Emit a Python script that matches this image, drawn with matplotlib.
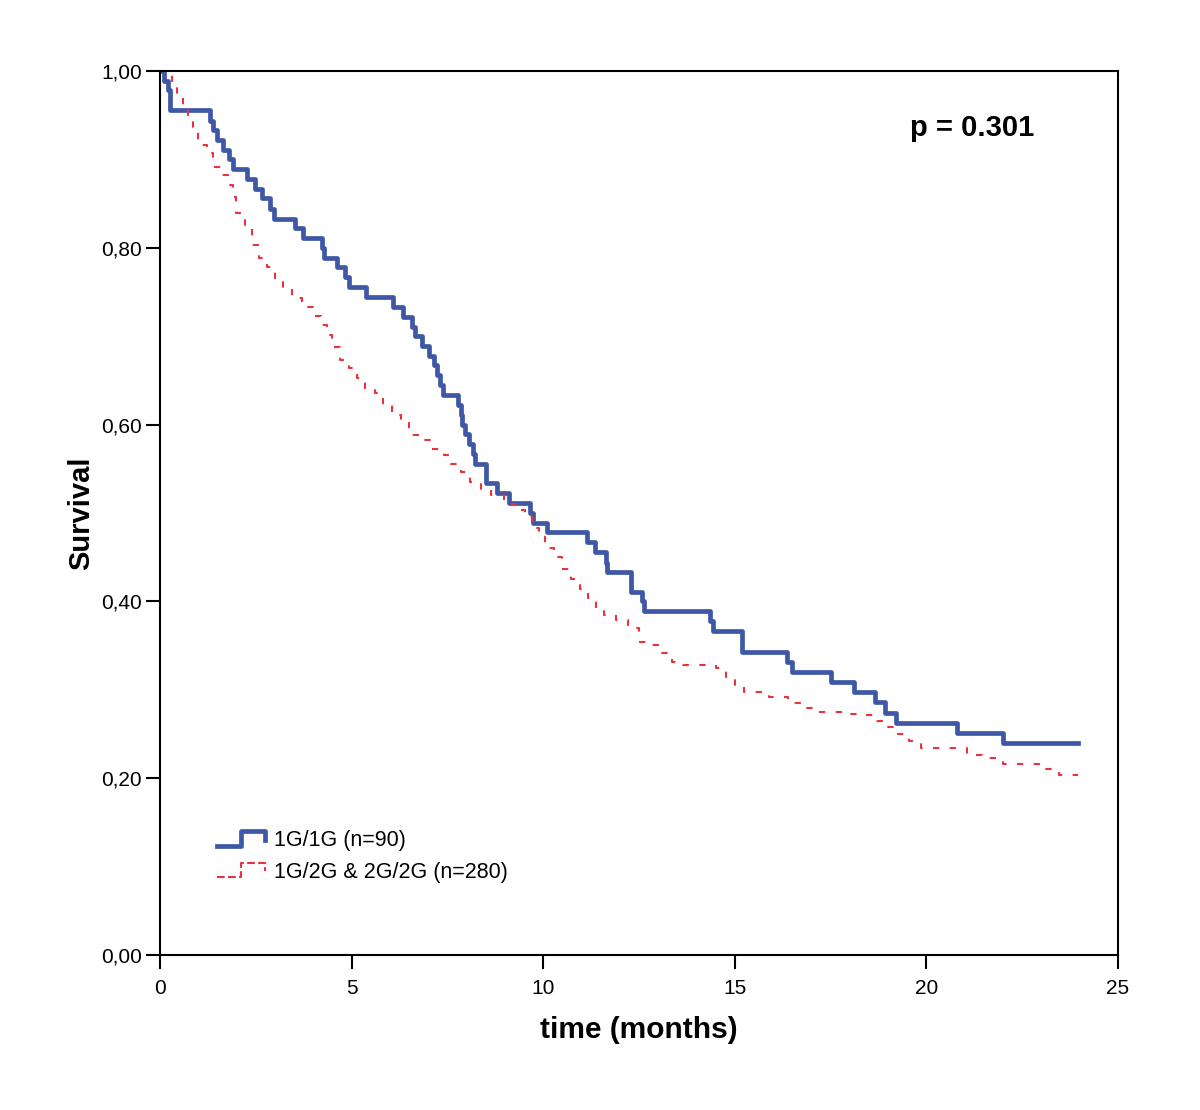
import numpy as np
import matplotlib
matplotlib.use("Agg")
import matplotlib.pyplot as plt
from matplotlib.legend_handler import HandlerBase
from matplotlib.lines import Line2D

plt.rcParams['font.family'] = ['Liberation Sans', 'DejaVu Sans']

# Kaplan-Meier curves (time in months, survival)
t_1g = [0, 0.1, 0.2, 0.27, 1.30, 1.38, 1.5, 1.65, 1.8, 1.9, 2.27, 2.48, 2.66, 2.87, 2.97,
        3.52, 3.73, 4.23, 4.28, 4.62, 4.83, 4.93, 5.38, 6.08, 6.34, 6.58, 6.65, 6.84, 7.02,
        7.15, 7.23, 7.31, 7.39, 7.78, 7.85, 7.88, 7.96, 8.06, 8.17, 8.22, 8.5, 8.8, 9.1,
        9.65, 9.73, 10.1, 11.14, 11.35, 11.63, 11.66, 12.3, 12.58, 12.63, 14.35, 14.43,
        15.2, 16.36, 16.49, 17.5, 18.1, 18.66, 18.92, 19.2, 20.8, 22.0, 23.96]
s_1g = [1.0, 0.989, 0.978, 0.956, 0.944, 0.933, 0.922, 0.911, 0.900, 0.889, 0.878, 0.867,
        0.856, 0.844, 0.833, 0.822, 0.811, 0.800, 0.789, 0.778, 0.767, 0.756, 0.744, 0.733,
        0.722, 0.711, 0.700, 0.689, 0.678, 0.667, 0.656, 0.645, 0.633, 0.622, 0.611, 0.600,
        0.589, 0.578, 0.567, 0.556, 0.534, 0.523, 0.511, 0.500, 0.489, 0.478, 0.467, 0.456,
        0.444, 0.433, 0.411, 0.400, 0.389, 0.378, 0.366, 0.343, 0.331, 0.320, 0.309, 0.298,
        0.286, 0.274, 0.263, 0.251, 0.240, 0.240]

t_2g = [0, 0.31, 0.44, 0.6, 0.73, 0.86, 0.99, 1.23, 1.38, 1.62, 1.83, 1.9, 1.98, 2.22, 2.4,
        2.58, 2.8, 3.0, 3.2, 3.45, 3.7, 4.0, 4.2, 4.36, 4.5, 4.7, 4.94, 5.15, 5.35, 5.6,
        5.82, 6.05, 6.3, 6.5, 6.8, 7.05, 7.4, 7.6, 7.86, 8.08, 8.38, 8.65, 8.98, 9.3, 9.52,
        9.7, 9.9, 10.05, 10.28, 10.5, 10.72, 10.95, 11.16, 11.38, 11.58, 11.9, 12.2, 12.5,
        12.85, 13.08, 13.37, 13.65, 14.5, 14.78, 15.0, 15.25, 15.9, 16.4, 16.75, 17.1, 17.9,
        18.4, 18.7, 19.0, 19.27, 19.55, 19.85, 21.05, 21.45, 22.0, 23.05, 23.45, 23.96]
s_2g = [1.0, 0.986, 0.973, 0.960, 0.945, 0.931, 0.916, 0.907, 0.891, 0.882, 0.871, 0.857,
        0.839, 0.826, 0.803, 0.788, 0.778, 0.766, 0.755, 0.743, 0.733, 0.723, 0.713, 0.701,
        0.688, 0.673, 0.664, 0.653, 0.639, 0.636, 0.622, 0.611, 0.602, 0.588, 0.583, 0.572,
        0.566, 0.556, 0.546, 0.535, 0.527, 0.520, 0.510, 0.503, 0.495, 0.483, 0.473, 0.460,
        0.450, 0.437, 0.425, 0.414, 0.404, 0.393, 0.385, 0.379, 0.370, 0.354, 0.351, 0.342,
        0.331, 0.328, 0.325, 0.314, 0.306, 0.298, 0.292, 0.285, 0.279, 0.275, 0.273, 0.271,
        0.265, 0.258, 0.250, 0.242, 0.234, 0.226, 0.223, 0.216, 0.211, 0.204, 0.204]

label_1g = "1G/1G (n=90)"
label_2g = "1G/2G & 2G/2G (n=280)"
p_text = "p = 0.301"

blue = "#3f58a6"
red = "#e8323c"


class StepHandler(HandlerBase):
    # legend sample drawn as a small step, like SPSS does
    def create_artists(self, legend, orig_handle, xdescent, ydescent, width, height, fontsize, trans):
        xs = [0, 0.5 * width, 0.5 * width, width, width]
        ys = [0.05 * height, 0.05 * height, 1.0 * height, 1.0 * height, 0.45 * height]
        ln = Line2D(xs, ys, color=orig_handle.get_color(), lw=orig_handle.get_linewidth(),
                    linestyle=orig_handle.get_linestyle(), transform=trans)
        return [ln]


fig = plt.figure(figsize=(12, 11.1), dpi=100)
ax = fig.add_axes([0.1333, 0.1396, 0.7984, 0.7964])

l1, = ax.plot(t_1g, s_1g, drawstyle='steps-post', color=blue, lw=3.4, label=label_1g)
l2, = ax.plot(t_2g, s_2g, drawstyle='steps-post', color=red, lw=1.5,
              linestyle=(0, (3, 5)), label=label_2g)

ax.set_xlim(0, 25)
ax.set_ylim(0, 1.0)
ax.set_xticks([0, 5, 10, 15, 20, 25])
ax.set_yticks([0, 0.2, 0.4, 0.6, 0.8, 1.0])
ax.set_yticklabels([f"{v:.2f}".replace('.', ',') for v in ax.get_yticks()])
ax.tick_params(direction='out', length=10, width=1.5, labelsize=15)
ax.tick_params(axis='x', pad=7)
ax.tick_params(axis='y', pad=3)
for sp in ax.spines.values():
    sp.set_linewidth(1.5)

ax.set_xlabel("time (months)", fontsize=21.5, fontweight='bold', labelpad=13)
ax.set_ylabel("Survival", fontsize=21, fontweight='bold', labelpad=4)

ax.text(0.783, 0.9355, p_text, transform=ax.transAxes, fontsize=21,
        fontweight='bold', va='center', ha='left')

ax.legend(handles=[l1, l2], handler_map={l1: StepHandler(), l2: StepHandler()},
          loc='upper left', bbox_to_anchor=(0.06, 0.141), frameon=False,
          fontsize=15.5, handlelength=2.2, handletextpad=0.42, labelspacing=0.5,
          borderpad=0, borderaxespad=0)

plt.savefig("out.png", dpi=100)
